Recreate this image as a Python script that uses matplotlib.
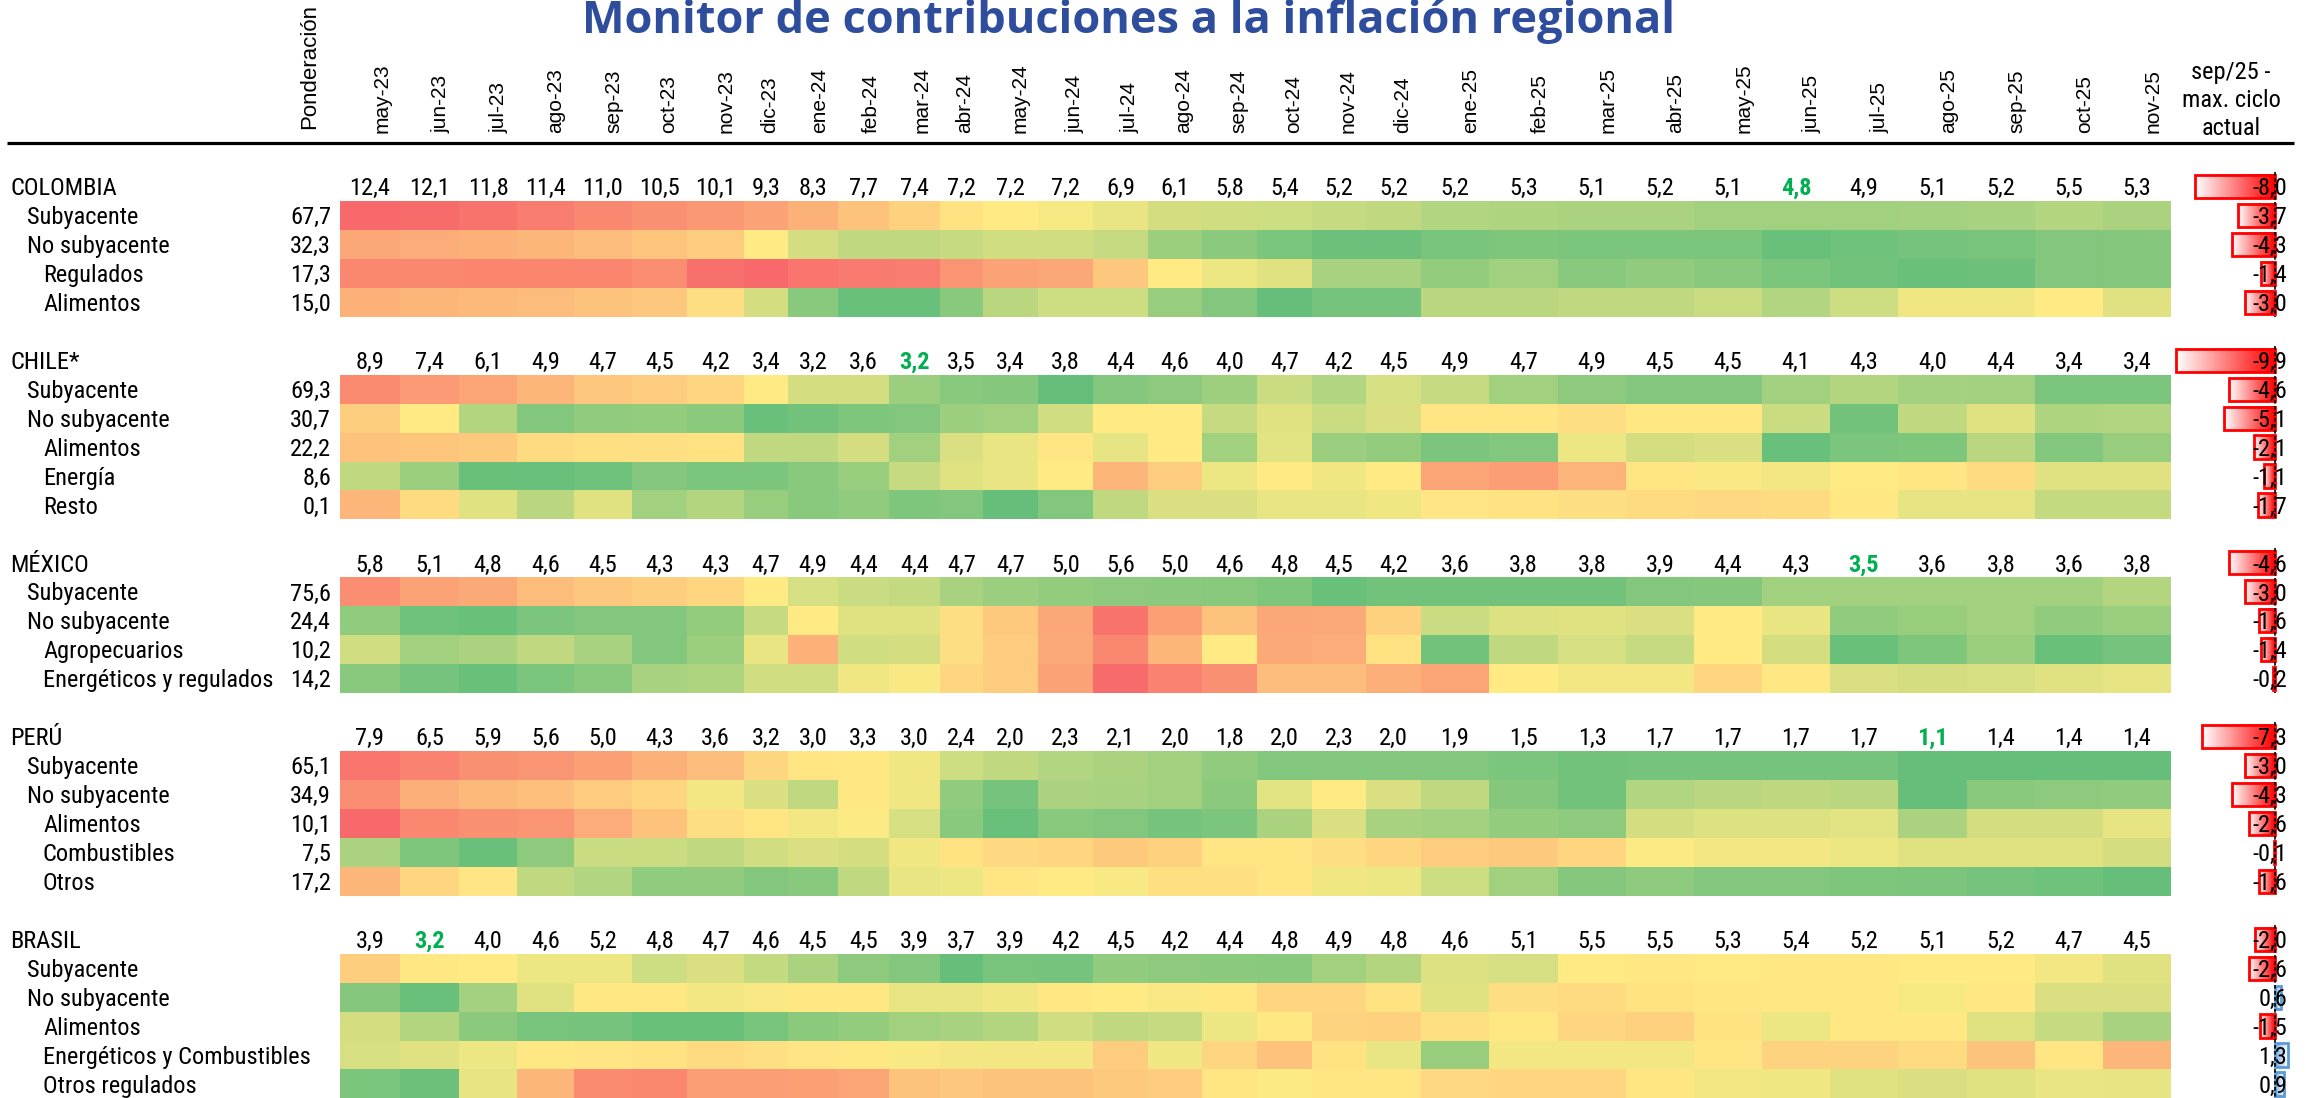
import numpy as np
import matplotlib
matplotlib.use("Agg")
import matplotlib.pyplot as plt
from matplotlib.font_manager import FontProperties, fontManager
from matplotlib.colors import LinearSegmentedColormap

# ---------------- DATA ----------------
TITLE = "Monitor de contribuciones a la inflación regional"
MONTHS = ["may-23", "jun-23", "jul-23", "ago-23", "sep-23", "oct-23", "nov-23", "dic-23",
          "ene-24", "feb-24", "mar-24", "abr-24", "may-24", "jun-24", "jul-24", "ago-24",
          "sep-24", "oct-24", "nov-24", "dic-24", "ene-25", "feb-25", "mar-25", "abr-25",
          "may-25", "jun-25", "jul-25", "ago-25", "sep-25", "oct-25", "nov-25"]
WEIGHT_HEADER = "Ponderación"
GAP_HEADER = ["sep/25 -", "max. ciclo", "actual"]

# Colombia
COL_NAME = "COLOMBIA"
COL_TOTAL = [12.4, 12.1, 11.8, 11.4, 11.0, 10.5, 10.1, 9.3, 8.3, 7.7, 7.4, 7.2, 7.2, 7.2, 6.9, 6.1,
             5.8, 5.4, 5.2, 5.2, 5.2, 5.3, 5.1, 5.2, 5.1, 4.8, 4.9, 5.1, 5.2, 5.5, 5.3]
COL_MIN = 25
COL_ITEMS = ["Subyacente", "No subyacente", "Regulados", "Alimentos"]
COL_WEIGHTS = [67.7, 32.3, 17.3, 15.0]
COL_GAP = [-8.0, -3.7, -4.3, -1.4, -3.0]
# heat scores (0 = lowest contribution of the row, 10 = highest)
COL_SUB = [10, 9.9, 9.6, 9.2, 8.8, 8.5, 8.2, 7.8, 7.2, 6.6, 6.0, 5.3, 5.0, 4.7, 4.3, 3.6,
           3.5, 3.4, 3.2, 3.0, 2.5, 2.4, 2.3, 2.3, 2.0, 2.0, 2.0, 2.1, 2.2, 2.6, 2.3]
COL_NOSUB = [7.6, 7.4, 7.2, 7.0, 6.8, 6.5, 6.2, 5.0, 3.6, 3.0, 3.0, 3.2, 3.5, 3.5, 3.2, 1.8,
             1.3, 0.8, 0.3, 0.3, 0.7, 0.9, 0.8, 0.8, 0.8, 0.2, 0.4, 0.6, 0.7, 1.0, 1.1]
COL_REG = [8.8, 8.8, 8.9, 8.9, 8.9, 8.6, 9.7, 10, 9.5, 9.3, 9.2, 8.3, 7.8, 7.6, 6.4, 5.0,
           4.4, 4.0, 2.2, 2.2, 1.6, 2.0, 1.2, 1.5, 1.2, 0.8, 0.5, 0.2, 0.3, 1.0, 1.1]
COL_ALIM = [7.2, 7.0, 6.9, 6.8, 6.6, 6.4, 5.5, 3.6, 1.2, 0.2, 0.2, 1.2, 2.8, 3.4, 3.4, 1.7,
            1.0, 0.1, 0.6, 0.6, 2.8, 2.8, 3.0, 3.0, 3.3, 2.5, 3.4, 4.5, 4.5, 5.0, 4.0]

# Chile
CHL_NAME = "CHILE*"
CHL_TOTAL = [8.9, 7.4, 6.1, 4.9, 4.7, 4.5, 4.2, 3.4, 3.2, 3.6, 3.2, 3.5, 3.4, 3.8, 4.4, 4.6,
             4.0, 4.7, 4.2, 4.5, 4.9, 4.7, 4.9, 4.5, 4.5, 4.1, 4.3, 4.0, 4.4, 3.4, 3.4]
CHL_MIN = 10
CHL_ITEMS = ["Subyacente", "No subyacente", "Alimentos", "Energía", "Resto"]
CHL_WEIGHTS = [69.3, 30.7, 22.2, 8.6, 0.1]
CHL_GAP = [-9.9, -4.6, -5.1, -2.1, -1.1, -1.7]
CHL_SUB = [8.7, 8.1, 7.7, 7.0, 6.4, 6.2, 5.8, 5.0, 3.6, 3.6, 1.8, 1.2, 1.1, 0.1, 1.0, 1.4,
           1.9, 3.3, 2.5, 3.7, 3.2, 2.0, 1.4, 1.0, 1.0, 2.0, 2.6, 2.1, 2.0, 0.8, 0.8]
CHL_NOSUB = [6.1, 5.0, 2.6, 1.0, 1.5, 1.6, 1.3, 0.2, 0.5, 0.9, 1.0, 1.8, 2.0, 3.5, 5.0, 5.0,
             3.2, 4.0, 3.3, 3.8, 5.2, 5.2, 5.5, 5.1, 5.1, 3.3, 0.5, 3.0, 4.0, 2.4, 2.5]
CHL_ALIM = [6.6, 6.5, 6.3, 5.6, 5.4, 5.4, 5.3, 3.0, 3.0, 3.6, 2.0, 3.8, 4.3, 5.2, 4.2, 5.0,
            2.0, 4.1, 1.8, 1.6, 0.8, 1.0, 4.4, 3.6, 3.8, 0.2, 0.8, 0.9, 2.8, 1.0, 1.7]
CHL_ENER = [3.0, 1.8, 0.2, 0.2, 0.4, 1.0, 0.8, 0.8, 1.2, 1.7, 3.2, 4.0, 4.3, 5.0, 7.0, 6.2,
            4.4, 5.0, 4.5, 5.0, 7.7, 8.0, 7.1, 5.2, 4.8, 4.6, 5.0, 5.2, 5.6, 4.0, 4.0]
CHL_RESTO = [7.0, 5.6, 4.0, 2.8, 4.0, 2.0, 2.6, 1.7, 1.2, 1.5, 0.9, 1.0, 0.1, 1.0, 3.0, 3.8,
             3.8, 4.3, 4.3, 4.5, 5.2, 5.3, 5.5, 5.6, 5.7, 5.6, 5.1, 4.2, 4.2, 3.1, 3.1]

# México
MEX_NAME = "MÉXICO"
MEX_TOTAL = [5.8, 5.1, 4.8, 4.6, 4.5, 4.3, 4.3, 4.7, 4.9, 4.4, 4.4, 4.7, 4.7, 5.0, 5.6, 5.0,
             4.6, 4.8, 4.5, 4.2, 3.6, 3.8, 3.8, 3.9, 4.4, 4.3, 3.5, 3.6, 3.8, 3.6, 3.8]
MEX_MIN = 26
MEX_ITEMS = ["Subyacente", "No subyacente", "Agropecuarios", "Energéticos y regulados"]
MEX_WEIGHTS = [75.6, 24.4, 10.2, 14.2]
MEX_GAP = [-4.6, -3.0, -1.6, -1.4, -0.2]
MEX_SUB = [8.6, 7.8, 7.5, 6.8, 6.4, 6.1, 5.8, 5.0, 3.7, 3.3, 3.1, 2.2, 1.8, 1.6, 1.4, 1.3,
           1.2, 0.9, 0.2, 0.5, 0.5, 0.5, 0.5, 1.0, 1.1, 2.0, 2.0, 2.0, 2.0, 2.0, 2.6]
MEX_NOSUB = [1.5, 0.4, 0.2, 0.8, 1.0, 1.0, 1.6, 3.2, 5.0, 4.0, 4.0, 5.5, 6.3, 7.6, 9.6, 7.9,
             6.6, 7.6, 7.5, 6.0, 3.3, 3.9, 4.0, 3.8, 5.0, 4.3, 1.5, 1.7, 2.0, 1.5, 1.8]
MEX_AGRO = [3.5, 2.0, 2.3, 3.0, 2.2, 1.0, 1.8, 4.3, 7.2, 3.5, 3.6, 5.5, 6.2, 7.5, 8.8, 7.0,
            5.0, 7.5, 7.4, 5.3, 0.5, 3.0, 3.7, 3.2, 5.0, 3.6, 0.2, 0.9, 1.8, 0.2, 0.6]
MEX_ENER = [1.2, 0.6, 0.2, 0.8, 1.2, 2.2, 2.4, 3.5, 3.5, 4.5, 4.8, 5.8, 6.2, 7.8, 9.9, 9.0,
            8.5, 6.8, 6.8, 7.3, 7.7, 5.0, 4.6, 4.6, 5.8, 5.1, 3.8, 3.6, 3.7, 4.0, 4.2]

# Perú
PER_NAME = "PERÚ"
PER_TOTAL = [7.9, 6.5, 5.9, 5.6, 5.0, 4.3, 3.6, 3.2, 3.0, 3.3, 3.0, 2.4, 2.0, 2.3, 2.1, 2.0,
             1.8, 2.0, 2.3, 2.0, 1.9, 1.5, 1.3, 1.7, 1.7, 1.7, 1.7, 1.1, 1.4, 1.4, 1.4]
PER_MIN = 27
PER_ITEMS = ["Subyacente", "No subyacente", "Alimentos", "Combustibles", "Otros"]
PER_WEIGHTS = [65.1, 34.9, 10.1, 7.5, 17.2]
PER_GAP = [-7.3, -3.0, -4.3, -2.6, -0.1, -1.6]
PER_SUB = [9.5, 9.0, 8.5, 8.3, 7.9, 7.2, 6.8, 5.8, 5.2, 5.1, 4.5, 3.4, 3.0, 2.5, 2.3, 2.0,
           1.5, 1.0, 1.0, 1.0, 1.0, 0.8, 0.5, 0.6, 0.6, 0.6, 0.6, 0.1, 0.1, 0.1, 0.1]
PER_NOSUB = [8.6, 7.3, 6.9, 6.7, 6.2, 5.8, 4.6, 3.8, 3.0, 5.1, 4.5, 1.5, 0.6, 2.3, 2.2, 2.0,
             1.3, 4.1, 5.0, 3.8, 3.0, 1.1, 0.5, 2.5, 2.8, 2.9, 2.8, 0.1, 1.2, 1.4, 1.5]
PER_ALIM = [10, 8.8, 8.5, 8.3, 7.4, 6.6, 5.5, 5.2, 4.6, 4.9, 3.7, 1.2, 0.2, 1.2, 1.0, 0.6,
            0.8, 2.3, 3.8, 2.2, 2.1, 1.6, 1.4, 3.6, 3.9, 3.9, 4.1, 2.3, 3.6, 3.6, 4.2]
PER_COMB = [2.3, 0.9, 0.2, 1.4, 3.3, 3.3, 3.0, 3.5, 3.8, 3.6, 4.5, 5.3, 5.7, 5.8, 6.3, 6.0,
            5.2, 5.2, 5.5, 5.8, 6.2, 6.3, 5.8, 4.9, 4.6, 4.6, 4.4, 4.0, 4.0, 4.0, 3.6]
PER_OTROS = [7.0, 5.8, 5.2, 3.0, 2.5, 1.5, 1.5, 1.0, 1.2, 3.0, 4.3, 4.4, 5.2, 5.0, 4.8, 5.4,
             5.4, 5.2, 4.5, 4.4, 3.4, 2.0, 1.1, 1.4, 1.0, 1.0, 0.9, 0.8, 0.6, 0.4, 0.1]

# Brasil
BRA_NAME = "BRASIL"
BRA_TOTAL = [3.9, 3.2, 4.0, 4.6, 5.2, 4.8, 4.7, 4.6, 4.5, 4.5, 3.9, 3.7, 3.9, 4.2, 4.5, 4.2,
             4.4, 4.8, 4.9, 4.8, 4.6, 5.1, 5.5, 5.5, 5.3, 5.4, 5.2, 5.1, 5.2, 4.7, 4.5]
BRA_MIN = 1
BRA_ITEMS = ["Subyacente", "No subyacente", "Alimentos", "Energéticos y Combustibles",
             "Otros regulados"]
BRA_WEIGHTS = [None, None, None, None, None]
BRA_GAP = [-2.0, -2.6, 0.6, -1.5, 1.3, 0.9]
BRA_SUB = [6.1, 5.1, 5.0, 4.4, 4.4, 3.4, 3.8, 3.1, 2.3, 1.4, 1.0, 0.1, 0.7, 0.6, 1.5, 1.4,
           1.3, 1.2, 2.0, 2.6, 3.9, 3.7, 5.0, 5.1, 5.0, 5.1, 5.1, 5.0, 5.0, 4.6, 4.0]
BRA_NOSUB = [1.1, 0.2, 2.1, 4.0, 5.1, 5.1, 4.6, 4.8, 5.1, 5.1, 4.3, 4.3, 4.5, 5.1, 5.0, 4.8,
             5.1, 5.8, 5.8, 5.3, 4.0, 5.5, 5.6, 5.3, 5.2, 5.1, 5.1, 4.7, 5.1, 3.8, 3.8]
BRA_ALIM = [3.6, 2.6, 1.3, 0.7, 0.6, 0.2, 0.2, 0.7, 1.3, 1.6, 2.0, 2.2, 2.6, 3.5, 3.0, 3.2,
            4.4, 5.1, 5.9, 6.0, 5.4, 5.1, 5.8, 6.0, 5.3, 4.4, 5.1, 5.1, 4.0, 3.2, 2.2]
BRA_ENER = [3.7, 4.0, 4.4, 5.1, 5.2, 5.3, 5.6, 5.4, 5.2, 5.1, 4.8, 4.6, 4.6, 4.6, 6.2, 4.5,
            5.8, 6.6, 5.3, 4.3, 1.7, 4.6, 4.6, 4.6, 5.2, 5.9, 5.9, 5.6, 6.6, 5.2, 7.0]
BRA_OTROS = [0.8, 0.3, 4.2, 7.0, 8.7, 8.8, 8.0, 8.0, 7.9, 7.7, 6.6, 6.4, 6.6, 6.6, 6.3, 6.2,
             5.2, 4.9, 5.2, 5.2, 5.7, 5.8, 5.8, 5.2, 4.6, 4.5, 4.0, 3.8, 4.0, 4.3, 4.2]

# ---------------- LAYOUT / STYLE ----------------
W, H = 2306, 1098
X_EDGES = np.array([340, 400, 459, 517, 574, 632, 687, 744, 788, 838, 889, 940, 983, 1038,
                    1093, 1148, 1202, 1257, 1312, 1366, 1421, 1489, 1558, 1626, 1694, 1762,
                    1830, 1898, 1967, 2035, 2103, 2171], dtype=float)
ROW0, PITCH = 186.5, 28.95
INDENT_X = {0: 10, 1: 27, 2: 43}
FONT = ["Liberation Sans", "DejaVu Sans"]
FS = 15
GREEN = "#00B050"
TITLE_COLOR = "#2E4D9C"
ZERO_X, PX_PER_UNIT = 2275, 10.0
REF_LABEL, REF_LABEL_W = "Energéticos y Combustibles", 266.0


def pick_narrow():
    """Pick a narrow / condensed sans face if one is installed."""
    entries = fontManager.ttflist
    names = {e.name for e in entries}
    for fam in ["Liberation Sans Narrow", "Arial Narrow", "Roboto Condensed",
                "Open Sans Condensed", "Noto Sans Condensed", "DejaVu Sans Condensed"]:
        if fam in names:
            return fam, "normal"
    for fam in ["Noto Sans", "DejaVu Sans", "Open Sans", "Roboto"]:
        for e in entries:
            if e.name == fam and str(e.stretch) in ("condensed", "semi-condensed"):
                return fam, str(e.stretch)
    return "Liberation Sans", "normal"


NARROW_FAM, NARROW_STRETCH = pick_narrow()


def fp(size, weight="normal"):
    return FontProperties(family=[NARROW_FAM, "DejaVu Sans"], stretch=NARROW_STRETCH,
                          weight=weight, size=size)


groups = [
    (COL_NAME, COL_TOTAL, COL_MIN, COL_ITEMS, [1, 1, 2, 2], COL_WEIGHTS, COL_GAP,
     [COL_SUB, COL_NOSUB, COL_REG, COL_ALIM]),
    (CHL_NAME, CHL_TOTAL, CHL_MIN, CHL_ITEMS, [1, 1, 2, 2, 2], CHL_WEIGHTS, CHL_GAP,
     [CHL_SUB, CHL_NOSUB, CHL_ALIM, CHL_ENER, CHL_RESTO]),
    (MEX_NAME, MEX_TOTAL, MEX_MIN, MEX_ITEMS, [1, 1, 2, 2], MEX_WEIGHTS, MEX_GAP,
     [MEX_SUB, MEX_NOSUB, MEX_AGRO, MEX_ENER]),
    (PER_NAME, PER_TOTAL, PER_MIN, PER_ITEMS, [1, 1, 2, 2, 2], PER_WEIGHTS, PER_GAP,
     [PER_SUB, PER_NOSUB, PER_ALIM, PER_COMB, PER_OTROS]),
    (BRA_NAME, BRA_TOTAL, BRA_MIN, BRA_ITEMS, [1, 1, 2, 2, 2], BRA_WEIGHTS, BRA_GAP,
     [BRA_SUB, BRA_NOSUB, BRA_ALIM, BRA_ENER, BRA_OTROS]),
]


def fmt(v):
    return f"{v:.1f}".replace(".", ",")


def row_y(r):
    return ROW0 + r * PITCH


fig = plt.figure(figsize=(W / 100, H / 100), dpi=100)
ax = fig.add_axes([0, 0, 1, 1])
ax.set_xlim(0, W)
ax.set_ylim(H, 0)
ax.axis("off")

# size the narrow font so that the longest row label has the reference width
renderer = fig.canvas.get_renderer()
probe = ax.text(0, 500, REF_LABEL, fontproperties=fp(10))
pw = probe.get_window_extent(renderer).width
probe.remove()
FS_N = min(10 * REF_LABEL_W / pw, 19.5)
BASE_OFF = 0.355 * FS_N * 100 / 72


def txt(axis, x, y, s, weight="normal", **kw):
    kw.setdefault("va", "baseline")
    return axis.text(x, y, s, fontproperties=fp(FS_N, weight), **kw)


heat_cmap = LinearSegmentedColormap.from_list("excel3", ["#63BE7B", "#FFEB84", "#F8696B"])
red_cmap = LinearSegmentedColormap.from_list("redbar", ["#FFFFFF", "#FF0000"])
blue_cmap = LinearSegmentedColormap.from_list("bluebar", ["#FFFFFF", "#7FA9DD"])

n_rows = 32
C = np.full((n_rows, len(MONTHS)), np.nan)
centers = 0.5 * (X_EDGES[:-1] + X_EDGES[1:])

# title
t = ax.text(1128, 33, TITLE, ha="center", va="baseline", fontsize=28, fontweight="bold",
            color=TITLE_COLOR, family=["Open Sans", "DejaVu Sans"])

# column headers
for m, xr in zip(MONTHS, X_EDGES[1:]):
    ax.text(xr - 18, 133, m, rotation=90, ha="center", va="bottom", fontsize=FS, family=FONT)
ax.text(310, 129, WEIGHT_HEADER, rotation=90, ha="center", va="bottom", fontsize=16,
        family=FONT)
for k, line in enumerate(GAP_HEADER):
    txt(ax, 2231, 79 + k * 28, line, ha="center")
ax.plot([7, 2294], [143, 143], color="black", lw=2.3, solid_capstyle="butt")

# bar axes
bx0, bx1 = 2140, 2305
axb = fig.add_axes([bx0 / W, 0, (bx1 - bx0) / W, 1])
axb.patch.set_alpha(0)
axb.axis("off")

r = 0
for name, total, imin, items, levels, weights, gap, heats in groups:
    y = row_y(r)
    txt(ax, INDENT_X[0], y + BASE_OFF, name, ha="left")
    for j, v in enumerate(total):
        if j == imin:
            txt(ax, centers[j], y + BASE_OFF, fmt(v), weight="bold", ha="center", color=GREEN)
        else:
            txt(ax, centers[j], y + BASE_OFF, fmt(v), ha="center", color="black")
    for k, (lab, lev, wgt, heat) in enumerate(zip(items, levels, weights, heats)):
        rr = r + 1 + k
        yy = row_y(rr)
        txt(ax, INDENT_X[lev], yy + BASE_OFF, lab, ha="left")
        if wgt is not None:
            txt(ax, 331, yy + BASE_OFF, fmt(wgt), ha="right")
        C[rr, :] = heat
    # bars
    bh = 0.8
    for k, v in enumerate(gap):
        rr = r + k
        if v < 0:
            grad = np.linspace(0, 1, 256)[None, :]
            axb.imshow(grad, extent=(v, 0, rr + bh / 2, rr - bh / 2), cmap=red_cmap,
                       vmin=0, vmax=1, aspect="auto", interpolation="bilinear", zorder=2)
            axb.barh(rr, v, height=bh, left=0, fill=False, edgecolor="#FF0000",
                     linewidth=2.0, zorder=3)
        else:
            grad = np.linspace(1, 0, 256)[None, :]
            axb.imshow(grad, extent=(0, v, rr + bh / 2, rr - bh / 2), cmap=blue_cmap,
                       vmin=0, vmax=1, aspect="auto", interpolation="bilinear", zorder=2)
            axb.barh(rr, v, height=bh, left=0, fill=False, edgecolor="#5B9BD5",
                     linewidth=2.0, zorder=3)
        txt(axb, 2287, row_y(rr) + BASE_OFF, fmt(v), ha="right", transform=ax.transData,
            zorder=5)
    r_last = r + len(items)
    axb.plot([0, 0], [r - 0.5, r_last + 0.5], color="black", lw=1.2,
             linestyle=(0, (2.2, 1.4)), zorder=4)
    r = r_last + 2

Y_EDGES = ROW0 + (np.arange(n_rows + 1) - 0.5) * PITCH
ax.pcolormesh(X_EDGES, Y_EDGES, np.ma.masked_invalid(C), cmap=heat_cmap, vmin=0, vmax=10,
              shading="flat", antialiased=False, linewidth=0, zorder=1)

axb.set_xlim((bx0 - ZERO_X) / PX_PER_UNIT, (bx1 - ZERO_X) / PX_PER_UNIT)
axb.set_ylim((H - ROW0) / PITCH, (0 - ROW0) / PITCH)

# fit title width
fig.canvas.draw()
bb = t.get_window_extent()
t.set_fontsize(28 * 1090 / bb.width)

fig.savefig("out.png", dpi=100)
